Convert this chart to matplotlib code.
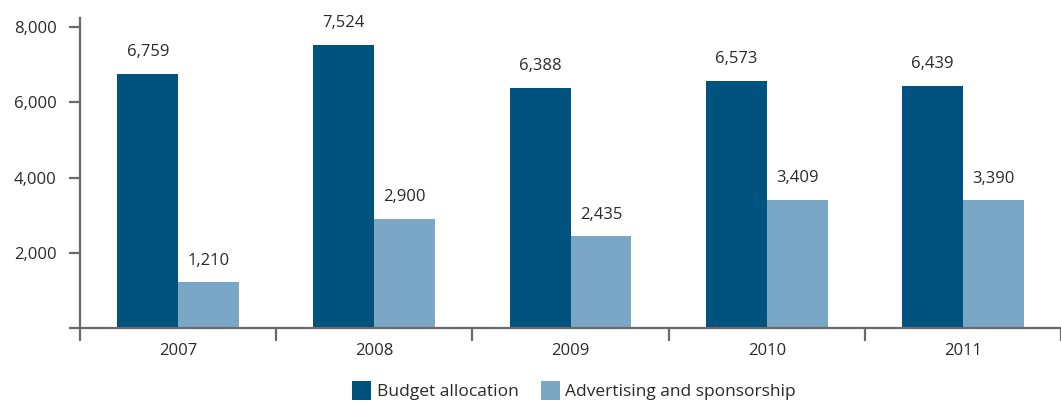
import matplotlib
matplotlib.use("Agg")
import matplotlib.pyplot as plt
import numpy as np

years = ["2007", "2008", "2009", "2010", "2011"]
budget = [6759, 7524, 6388, 6573, 6439]
advertising = [1210, 2900, 2435, 3409, 3390]

dark = "#00537f"
light = "#7ba7c6"
axis_col = "#6a6a6a"
text_col = "#2a2a2a"

plt.rcParams['font.family'] = ['Open Sans', 'DejaVu Sans']

fig = plt.figure(figsize=(10.61, 4.04), dpi=100)
ax = fig.add_axes([80 / 1061, 76 / 404, 981 / 1061, 310 / 404])

x = np.arange(len(years))
w = 0.31
b1 = ax.bar(x - w / 2, budget, w, color=dark, label="Budget allocation")
b2 = ax.bar(x + w / 2, advertising, w, color=light, label="Advertising and sponsorship")

for bars, vals in ((b1, budget), (b2, advertising)):
    for rect, v in zip(bars, vals):
        ax.annotate(f"{v:,}", (rect.get_x() + rect.get_width() / 2, v),
                    xytext=(0, 10), textcoords="offset points",
                    ha="center", va="bottom", fontsize=12, color=text_col)

ax.set_xlim(-0.5, len(years) - 0.5)
ax.set_ylim(0, 8240)
ax.set_yticks([0, 2000, 4000, 6000, 8000])
ax.set_yticklabels(["", "2,000", "4,000", "6,000", "8,000"])
ax.set_xticks(x)
ax.set_xticklabels(years)
ax.set_xticks(np.arange(len(years) + 1) - 0.5, minor=True)

for s in ("top", "right"):
    ax.spines[s].set_visible(False)
for s in ("left", "bottom"):
    ax.spines[s].set_color(axis_col)
    ax.spines[s].set_linewidth(1.6)

ax.tick_params(axis="y", direction="out", length=8, width=1.6, color=axis_col,
               labelsize=12, labelcolor=text_col, pad=9)
ax.tick_params(axis="x", which="major", length=0, labelsize=12,
               labelcolor=text_col, pad=11)
ax.tick_params(axis="x", which="minor", direction="out", length=9, width=1.6,
               color=axis_col)

fig.legend(loc="lower center", bbox_to_anchor=(0.541, -0.03), ncol=2,
           frameon=False, fontsize=12.5, handlelength=1.1, handleheight=1.3,
           handletextpad=0.3, columnspacing=1.3, labelcolor=text_col)

fig.savefig("out.png", dpi=100)
